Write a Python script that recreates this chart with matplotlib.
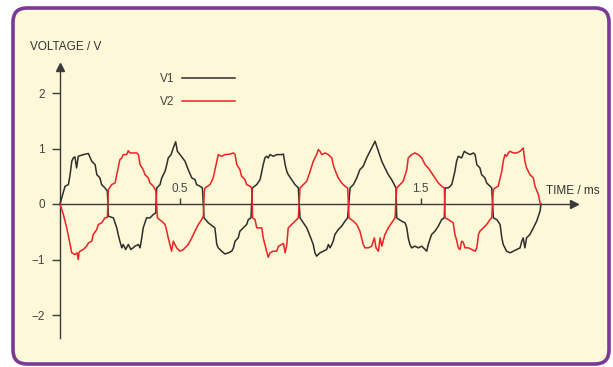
import matplotlib
matplotlib.use("Agg")
import matplotlib.pyplot as plt
from matplotlib.patches import FancyBboxPatch
from matplotlib.transforms import IdentityTransform

plt.rcParams['font.family'] = ['Liberation Sans', 'DejaVu Sans']

# time in ms, voltage in V
t1 = [0.000, 0.021, 0.035, 0.042, 0.049, 0.055, 0.062, 0.069, 0.076, 0.097, 0.118, 0.132, 0.146, 0.153, 0.166, 0.173, 0.187, 0.197,
      0.201, 0.222, 0.236, 0.242, 0.249, 0.257, 0.263, 0.273, 0.284, 0.295, 0.312, 0.326, 0.333, 0.340, 0.346, 0.353, 0.360, 0.374, 0.388, 0.398,
      0.402, 0.416, 0.423, 0.437, 0.444, 0.450, 0.462, 0.471, 0.481, 0.488, 0.499, 0.520, 0.533, 0.548, 0.561, 0.568, 0.582, 0.592,
      0.599, 0.617, 0.644, 0.652, 0.658, 0.672, 0.686, 0.700, 0.714, 0.721, 0.728, 0.741, 0.748, 0.762, 0.776, 0.783, 0.794,
      0.800, 0.818, 0.832, 0.839, 0.845, 0.852, 0.859, 0.866, 0.873, 0.887, 0.901, 0.922, 0.929, 0.936, 0.943, 0.949, 0.963, 0.977, 0.984, 0.991,
      0.998, 1.012, 1.026, 1.040, 1.053, 1.060, 1.067, 1.081, 1.095, 1.109, 1.116, 1.123, 1.130, 1.136, 1.143, 1.157, 1.171, 1.185, 1.196,
      1.206, 1.220, 1.234, 1.247, 1.261, 1.275, 1.289, 1.303, 1.310, 1.324, 1.338, 1.351, 1.365, 1.379, 1.393, 1.397,
      1.400, 1.421, 1.435, 1.442, 1.448, 1.455, 1.462, 1.476, 1.490, 1.504, 1.518, 1.525, 1.531, 1.545, 1.559, 1.573, 1.587, 1.598,
      1.601, 1.615, 1.629, 1.642, 1.649, 1.656, 1.670, 1.681, 1.691, 1.705, 1.719, 1.726, 1.733, 1.746, 1.753, 1.767, 1.774, 1.788, 1.795,
      1.802, 1.816, 1.830, 1.837, 1.843, 1.850, 1.857, 1.871, 1.885, 1.899, 1.913, 1.920, 1.926, 1.933, 1.940, 1.954, 1.968, 1.982, 1.996, 2.000]
v1 = [0.00, 0.32, 0.35, 0.53, 0.77, 0.83, 0.85, 0.65, 0.86, 0.89, 0.91, 0.77, 0.71, 0.53, 0.47, 0.35, 0.29, 0.23,
      -0.22, -0.25, -0.43, -0.55, -0.67, -0.79, -0.73, -0.82, -0.73, -0.82, -0.76, -0.73, -0.79, -0.61, -0.43, -0.34, -0.25, -0.25, -0.19, -0.16,
      0.29, 0.35, 0.47, 0.59, 0.71, 0.83, 0.89, 1.01, 1.12, 0.95, 0.89, 0.77, 0.62, 0.47, 0.44, 0.35, 0.32, 0.29,
      -0.25, -0.34, -0.43, -0.73, -0.79, -0.85, -0.90, -0.88, -0.85, -0.79, -0.67, -0.61, -0.49, -0.43, -0.37, -0.28, -0.25,
      0.29, 0.35, 0.44, 0.59, 0.71, 0.83, 0.86, 0.83, 0.89, 0.86, 0.89, 0.89, 0.90, 0.71, 0.59, 0.53, 0.44, 0.35, 0.32, 0.29,
      -0.25, -0.34, -0.43, -0.58, -0.73, -0.88, -0.94, -0.88, -0.85, -0.82, -0.73, -0.79, -0.73, -0.67, -0.55, -0.46, -0.40, -0.31, -0.25,
      0.29, 0.35, 0.47, 0.62, 0.68, 0.83, 0.95, 1.07, 1.13, 0.95, 0.77, 0.65, 0.53, 0.44, 0.32, 0.29,
      -0.25, -0.31, -0.34, -0.43, -0.61, -0.73, -0.79, -0.76, -0.79, -0.76, -0.82, -0.85, -0.73, -0.55, -0.49, -0.40, -0.28, -0.25,
      0.29, 0.29, 0.35, 0.59, 0.77, 0.86, 0.83, 0.95, 0.92, 0.89, 0.92, 0.89, 0.71, 0.65, 0.53, 0.47, 0.38, 0.32, 0.29,
      -0.25, -0.28, -0.37, -0.61, -0.73, -0.79, -0.85, -0.88, -0.85, -0.82, -0.79, -0.67, -0.61, -0.79, -0.61, -0.55, -0.43, -0.31, -0.13, 0.00]

t2 = [0.000, 0.014, 0.028, 0.042, 0.049, 0.062, 0.071, 0.076, 0.079, 0.083, 0.097, 0.111, 0.118, 0.132, 0.138, 0.153, 0.159, 0.173, 0.187, 0.197,
      0.201, 0.215, 0.229, 0.242, 0.249, 0.257, 0.263, 0.277, 0.284, 0.291, 0.305, 0.319, 0.326, 0.333, 0.346, 0.353, 0.367, 0.374, 0.388, 0.395, 0.399,
      0.405, 0.423, 0.437, 0.444, 0.450, 0.457, 0.464, 0.471, 0.478, 0.485, 0.499, 0.513, 0.533, 0.548, 0.561, 0.575, 0.589, 0.596,
      0.600, 0.603, 0.624, 0.637, 0.652, 0.658, 0.672, 0.686, 0.707, 0.721, 0.728, 0.735, 0.748, 0.755, 0.769, 0.776, 0.790, 0.797,
      0.801, 0.811, 0.818, 0.839, 0.845, 0.852, 0.859, 0.866, 0.873, 0.887, 0.901, 0.908, 0.922, 0.929, 0.936, 0.943, 0.949, 0.963, 0.977, 0.991,
      0.998, 1.012, 1.026, 1.040, 1.053, 1.067, 1.074, 1.081, 1.088, 1.102, 1.116, 1.130, 1.136, 1.143, 1.151, 1.157, 1.171, 1.185, 1.196,
      1.202, 1.220, 1.234, 1.247, 1.254, 1.261, 1.268, 1.282, 1.296, 1.307, 1.314, 1.324, 1.331, 1.338, 1.351, 1.365, 1.379, 1.393,
      1.400, 1.414, 1.427, 1.442, 1.448, 1.462, 1.476, 1.490, 1.504, 1.518, 1.531, 1.545, 1.559, 1.573, 1.587, 1.598,
      1.601, 1.615, 1.635, 1.642, 1.649, 1.656, 1.663, 1.670, 1.677, 1.684, 1.698, 1.712, 1.726, 1.733, 1.740, 1.746, 1.760, 1.774, 1.788, 1.795,
      1.802, 1.809, 1.822, 1.837, 1.843, 1.850, 1.857, 1.864, 1.871, 1.885, 1.899, 1.913, 1.920, 1.926, 1.933, 1.940, 1.954, 1.968, 1.975, 1.989, 1.996, 2.000]
v2 = [0.00, -0.19, -0.43, -0.73, -0.88, -0.91, -0.88, -1.00, -0.88, -0.85, -0.82, -0.76, -0.70, -0.67, -0.55, -0.46, -0.37, -0.34, -0.25, -0.24,
      0.26, 0.35, 0.38, 0.65, 0.80, 0.83, 0.89, 0.89, 0.96, 0.92, 0.92, 0.92, 0.89, 0.71, 0.62, 0.53, 0.47, 0.38, 0.32, 0.26, 0.23,
      -0.25, -0.31, -0.37, -0.49, -0.61, -0.73, -0.85, -0.67, -0.73, -0.79, -0.85, -0.82, -0.73, -0.61, -0.49, -0.37, -0.28, -0.22,
      0.23, 0.29, 0.35, 0.47, 0.77, 0.89, 0.86, 0.89, 0.90, 0.92, 0.89, 0.71, 0.62, 0.50, 0.44, 0.35, 0.32, 0.29,
      -0.25, -0.28, -0.43, -0.43, -0.61, -0.73, -0.85, -0.96, -0.88, -0.85, -0.85, -0.76, -0.73, -0.71, -0.88, -0.73, -0.43, -0.37, -0.31, -0.25,
      0.29, 0.35, 0.41, 0.59, 0.77, 0.89, 0.98, 0.95, 0.89, 0.92, 0.89, 0.83, 0.71, 0.62, 0.53, 0.47, 0.38, 0.32, 0.29,
      -0.25, -0.31, -0.37, -0.49, -0.61, -0.73, -0.79, -0.79, -0.76, -0.61, -0.79, -0.85, -0.61, -0.76, -0.55, -0.43, -0.34, -0.25,
      0.29, 0.35, 0.41, 0.62, 0.83, 0.89, 0.92, 0.89, 0.83, 0.71, 0.65, 0.56, 0.47, 0.38, 0.32, 0.29,
      -0.25, -0.28, -0.34, -0.55, -0.65, -0.79, -0.82, -0.67, -0.69, -0.79, -0.79, -0.82, -0.85, -0.79, -0.55, -0.49, -0.43, -0.37, -0.28, -0.25,
      0.26, 0.29, 0.32, 0.59, 0.77, 0.89, 0.86, 0.92, 0.95, 0.92, 0.92, 0.95, 0.98, 1.01, 0.77, 0.65, 0.53, 0.47, 0.32, 0.17, 0.02, 0.00]

series_names = ['V1', 'V2']
y_ticks = [-2, -1, 0, 1, 2]
x_ticks = [0.5, 1.5]

ink = '#3a3a3a'
fig = plt.figure(figsize=(6.13, 3.67), dpi=100, facecolor='white')

# rounded card behind the chart
card = FancyBboxPatch((13, 3), 596, 356, boxstyle='round,pad=0,rounding_size=14',
                      transform=IdentityTransform(), facecolor='#fcf8d8',
                      edgecolor='#7b3a96', linewidth=2.6, zorder=-1)
fig.patches.append(card)

ax = fig.add_axes([0, 0, 1, 1])
ax.set_zorder(1)
ax.patch.set_alpha(0)
ax.set_xlim(-60 / 240.5, 553 / 240.5)
ax.set_ylim(-163 / 55.5, 204 / 55.5)

l1, = ax.plot(t1, v1, color='#2e2e2e', lw=1.1, zorder=3)
l2, = ax.plot(t2, v2, color='#ec2224', lw=1.1, zorder=3)

for side in ['top', 'right']:
    ax.spines[side].set_visible(False)
ax.spines['left'].set_position(('data', 0))
ax.spines['bottom'].set_position(('data', 0))
ax.spines['left'].set_bounds(-2.41, 2.45)
ax.spines['bottom'].set_bounds(0, 2.13)
for side in ['left', 'bottom']:
    ax.spines[side].set_color(ink)
    ax.spines[side].set_linewidth(1.0)

# arrow heads
ax.plot([0], [2.47], marker='^', ms=6, color=ink, clip_on=False, zorder=4)
ax.plot([2.137], [0], marker='>', ms=6, color=ink, clip_on=False, zorder=4)

ax.set_yticks(y_ticks)
ax.set_yticklabels(['\u22122', '\u22121', '0', '1', '2'])
ax.set_xticks(x_ticks)
ax.set_xticklabels(['0.5', '1.5'])
ax.tick_params(axis='y', direction='out', length=6, width=1.0, color=ink, pad=5,
               labelsize=8.5, labelcolor='#444444')
ax.tick_params(axis='x', direction='in', length=4, width=1.0, color=ink, pad=-15,
               labelsize=8.5, labelcolor='#444444')

ax.text((30 - 60) / 240.5, (204 - 47) / 55.5, 'VOLTAGE / V', fontsize=8.5,
        color='#333333', ha='left', va='center')
ax.text((546 - 60) / 240.5, (204 - 191) / 55.5, 'TIME / ms', fontsize=8.5,
        color='#333333', ha='left', va='center')

ax.legend([l1, l2], series_names, markerfirst=False, frameon=False, loc='upper left',
          bbox_to_anchor=(160 / 613, 1 - 73 / 367), fontsize=8.5, handlelength=4.5,
          handletextpad=0.6, labelspacing=0.95, borderpad=0, borderaxespad=0,
          labelcolor='#444444')

fig.savefig('out.png', dpi=100, facecolor='white')
